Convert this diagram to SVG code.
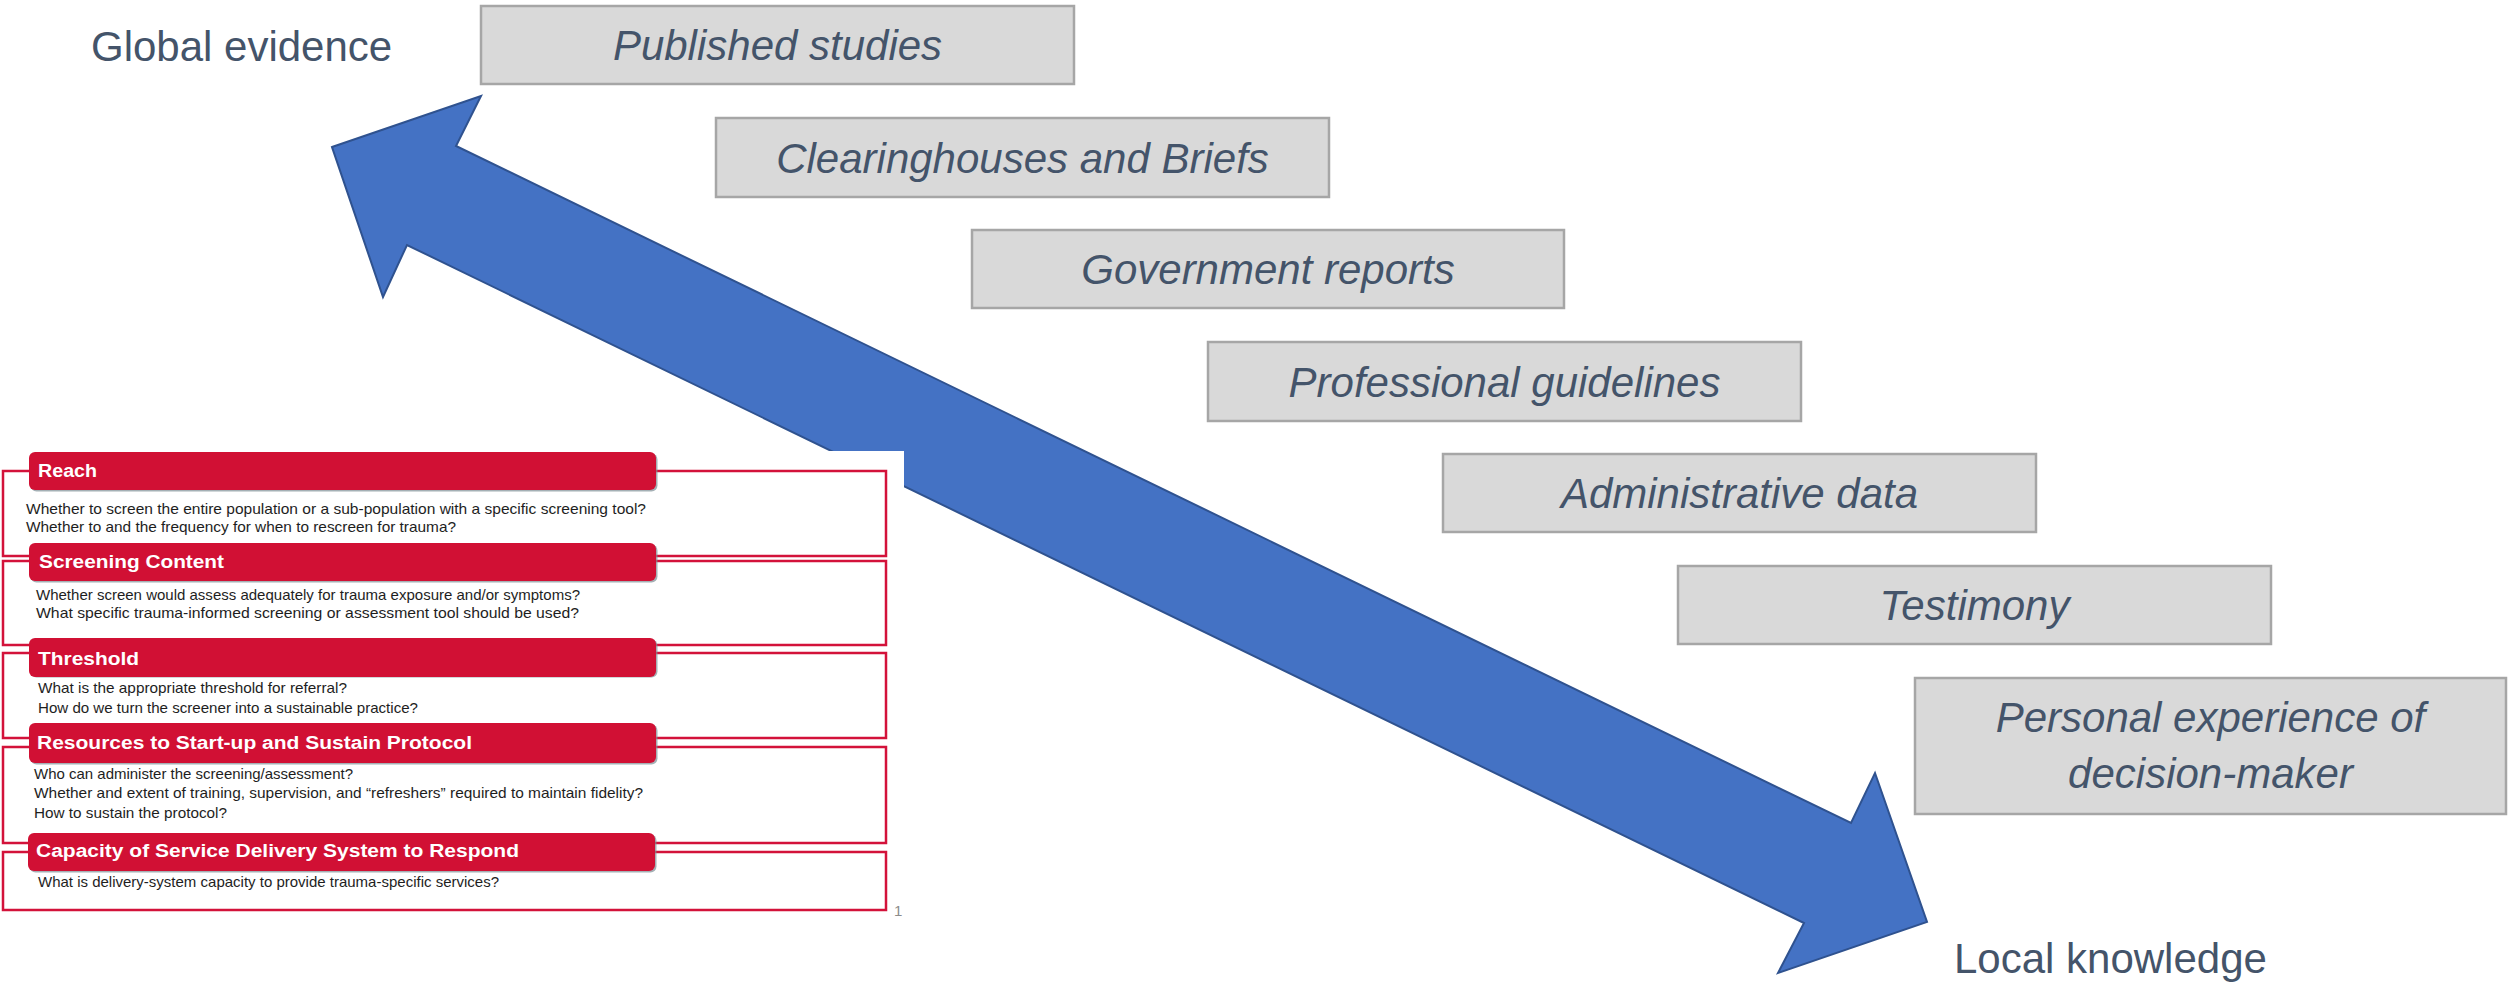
<svg xmlns="http://www.w3.org/2000/svg" width="2509" height="987" viewBox="0 0 2509 987">
  <style>
    .src rect { fill: #D9D9D9; stroke: #A6A6A6; stroke-width: 2.5; }
    .src text { font-family: "Liberation Sans", Arial, sans-serif; font-style: italic; font-size: 42px; fill: #44546A; text-anchor: middle; }
    .pole { font-family: "Liberation Sans", Arial, sans-serif; font-size: 42px; fill: #44546A; }
    .frame { fill: #FFFFFF; stroke: #D3123A; stroke-width: 2.5; }
    .hdr { fill: #D11034; }
    .hdr-shadow { fill: #7E8E96; opacity: 0.7; }
    .hdr-text { font-family: "Liberation Sans", Arial, sans-serif; font-weight: bold; font-size: 18px; fill: #FFFFFF; }
    .body { font-family: "Liberation Sans", Arial, sans-serif; font-size: 14.5px; fill: #1E1E1E; }
    .pageno { font-family: "Liberation Sans", Arial, sans-serif; font-size: 15px; fill: #8C8C8C; }
  </style>

  <rect x="0" y="0" width="2509" height="987" fill="#FFFFFF"/>

  <!-- Axis end labels -->
  <g id="label-global">
    <text class="pole" x="91" y="61">Global evidence</text>
  </g>
  <g id="label-local">
    <text class="pole" x="1954" y="973">Local knowledge</text>
  </g>

  <!-- Evidence sources, stepping down from global to local -->
  <g id="src-published" class="src">
    <rect x="481" y="6" width="593" height="78"/>
    <text x="777.5" y="60">Published studies</text>
  </g>
  <g id="src-clearinghouses" class="src">
    <rect x="716" y="118" width="613" height="79"/>
    <text x="1022.5" y="172.5">Clearinghouses and Briefs</text>
  </g>
  <g id="src-government" class="src">
    <rect x="972" y="230" width="592" height="78"/>
    <text x="1268" y="284">Government reports</text>
  </g>
  <g id="src-guidelines" class="src">
    <rect x="1208" y="342" width="593" height="79"/>
    <text x="1504.5" y="396.5">Professional guidelines</text>
  </g>
  <g id="src-admin" class="src">
    <rect x="1443" y="454" width="593" height="78"/>
    <text x="1739.5" y="508">Administrative data</text>
  </g>
  <g id="src-testimony" class="src">
    <rect x="1678" y="566" width="593" height="78"/>
    <text x="1974.5" y="620">Testimony</text>
  </g>
  <g id="src-personal" class="src">
    <rect x="1915" y="678" width="591" height="136"/>
    <text x="2210.5" y="732">Personal experience of</text>
    <text x="2210.5" y="788">decision-maker</text>
  </g>

  <!-- Double-headed block arrow between the two poles -->
  <g id="connectors">
    <polygon points="332,147 481,96 456,146 1851,823 1875,773 1927,922 1778,973 1804,923 407,245 383,297"
             fill="#4472C4" stroke="#2F528F" stroke-width="2" stroke-linejoin="miter"/>
  </g>

  <!-- Screening decision panel -->
  <g id="decision-panel">
    <rect x="0" y="451" width="904" height="474" fill="#FFFFFF"/>

    <g id="panel-reach">
      <rect class="frame" x="3" y="471" width="883" height="85"/>
      <rect class="hdr-shadow" x="30.5" y="453.5" width="627" height="38" rx="6"/>
      <rect class="hdr" x="29" y="452" width="627" height="38" rx="6"/>
      <text class="hdr-text" x="38" y="477" textLength="59" lengthAdjust="spacingAndGlyphs">Reach</text>
      <text class="body" x="26" y="514" textLength="620" lengthAdjust="spacingAndGlyphs">Whether to screen the entire population or a sub-population with a specific screening tool?</text>
      <text class="body" x="26" y="532" textLength="430" lengthAdjust="spacingAndGlyphs">Whether to and the frequency for when to rescreen for trauma?</text>
    </g>

    <g id="panel-content">
      <rect class="frame" x="3" y="561" width="883" height="84"/>
      <rect class="hdr-shadow" x="30.5" y="544.5" width="627" height="38" rx="6"/>
      <rect class="hdr" x="29" y="543" width="627" height="38" rx="6"/>
      <text class="hdr-text" x="39" y="568" textLength="185" lengthAdjust="spacingAndGlyphs">Screening Content</text>
      <text class="body" x="36" y="600" textLength="544" lengthAdjust="spacingAndGlyphs">Whether screen would assess adequately for trauma exposure and/or symptoms?</text>
      <text class="body" x="36" y="618" textLength="543" lengthAdjust="spacingAndGlyphs">What specific trauma-informed screening or assessment tool should be used?</text>
    </g>

    <g id="panel-threshold">
      <rect class="frame" x="3" y="653" width="883" height="85"/>
      <rect class="hdr-shadow" x="30.5" y="639.5" width="627" height="38" rx="6"/>
      <rect class="hdr" x="29" y="638" width="627" height="39" rx="6"/>
      <text class="hdr-text" x="38" y="665" textLength="101" lengthAdjust="spacingAndGlyphs">Threshold</text>
      <text class="body" x="38" y="693" textLength="309" lengthAdjust="spacingAndGlyphs">What is the appropriate threshold for referral?</text>
      <text class="body" x="38" y="713" textLength="380" lengthAdjust="spacingAndGlyphs">How do we turn the screener into a sustainable practice?</text>
    </g>

    <g id="panel-resources">
      <rect class="frame" x="3" y="747" width="883" height="96"/>
      <rect class="hdr-shadow" x="30.5" y="724.5" width="627" height="40" rx="6"/>
      <rect class="hdr" x="29" y="723" width="627" height="40" rx="6"/>
      <text class="hdr-text" x="37" y="749" textLength="435" lengthAdjust="spacingAndGlyphs">Resources to Start-up and Sustain Protocol</text>
      <text class="body" x="34" y="779" textLength="319" lengthAdjust="spacingAndGlyphs">Who can administer the screening/assessment?</text>
      <text class="body" x="34" y="798" textLength="609" lengthAdjust="spacingAndGlyphs">Whether and extent of training, supervision, and “refreshers” required to maintain fidelity?</text>
      <text class="body" x="34" y="818" textLength="193" lengthAdjust="spacingAndGlyphs">How to sustain the protocol?</text>
    </g>

    <g id="panel-capacity">
      <rect class="frame" x="3" y="852" width="883" height="58"/>
      <rect class="hdr-shadow" x="29.5" y="834.5" width="627" height="38" rx="6"/>
      <rect class="hdr" x="28" y="833" width="627" height="38" rx="6"/>
      <text class="hdr-text" x="36" y="857" textLength="483" lengthAdjust="spacingAndGlyphs">Capacity of Service Delivery System to Respond</text>
      <text class="body" x="38" y="887" textLength="461" lengthAdjust="spacingAndGlyphs">What is delivery-system capacity to provide trauma-specific services?</text>
    </g>

    <text class="pageno" x="894" y="916">1</text>
  </g>
</svg>
